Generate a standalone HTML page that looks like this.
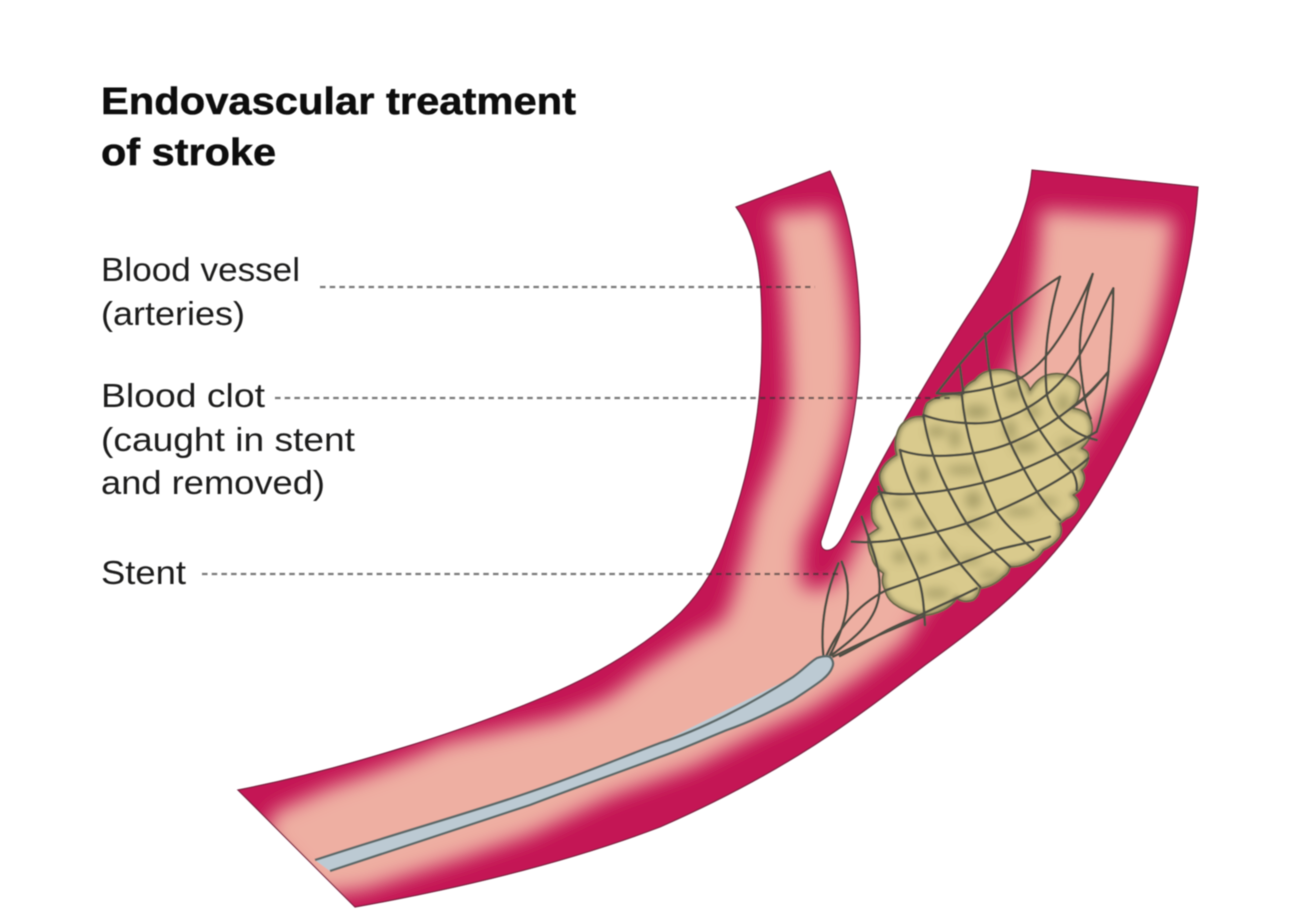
<!DOCTYPE html>
<html><head><meta charset="utf-8"><style>
html,body{margin:0;padding:0;background:#fff}
svg{display:block}
text{font-family:"Liberation Sans",sans-serif;fill:#1d1d1b}
</style></head><body>
<svg width="1308" height="919" viewBox="0 0 1308 919" xmlns="http://www.w3.org/2000/svg">
<defs>
<path id="vp" d="M238 790 C340 770 470 730 560 690 C600 672 640 648 673 620 C695 600 712 575 723 547 C745 490 762 420 762 340 C762 280 760 240 736 207 L830 171 C852 215 860 280 860 340 C860 420 838 490 821 541 C820 550 826 552 832 549 C838 546 842 538 846 530 C870 480 920 390 967 317 C1000 268 1028 220 1032 170 L1198 187 C1190 300 1150 410 1090 505 C1040 580 980 625 925 665 C860 715 790 770 660 827 C560 865 450 890 355 907 Z"/>
<clipPath id="v"><use href="#vp"/></clipPath>
<path id="clot" d="M540 405 C555 380 565 370 585 360 C600 340 620 332 640 330 C670 325 700 332 710 345 C730 355 745 370 750 390 C765 365 785 350 800 345 C825 338 850 340 870 350 C890 360 905 375 900 390 C898 415 890 430 880 445 C905 448 925 460 930 475 C940 500 938 515 930 530 C925 545 915 555 905 565 C920 570 928 580 925 590 C925 610 915 622 905 630 C915 645 915 660 910 670 C905 688 893 698 880 705 C893 715 898 728 895 740 C888 760 875 770 860 775 L840 790 C846 805 845 818 840 830 C825 850 808 862 790 870 C780 885 770 895 760 900 C735 915 710 922 690 920 C688 935 680 945 670 950 C650 970 625 982 600 985 C598 1000 590 1012 580 1020 C560 1028 545 1025 530 1015 C520 1030 505 1042 490 1050 C465 1062 440 1068 420 1065 C390 1060 360 1045 340 1030 C325 1018 318 1005 315 990 C306 975 305 958 310 940 C290 925 278 908 275 890 C265 870 262 845 265 825 L295 805 C280 790 273 775 275 760 C272 745 275 730 280 720 C288 708 300 700 315 695 C302 675 296 658 300 640 C308 615 328 597 350 585 C344 565 344 545 350 525 C355 505 362 493 375 485 C390 472 410 468 430 470 C430 452 435 440 440 430 C455 418 465 413 480 410 C500 403 520 400 540 405 Z"/>
<filter id="b" x="-20%" y="-20%" width="140%" height="140%"><feGaussianBlur stdDeviation="10"/></filter>
<filter id="b3" x="-60%" y="-60%" width="220%" height="220%"><feGaussianBlur stdDeviation="14"/></filter>
<filter id="b4" x="-10%" y="-10%" width="120%" height="120%"><feGaussianBlur stdDeviation="7"/></filter>
<clipPath id="cc"><use href="#clot"/></clipPath>
<filter id="s" x="-5%" y="-5%" width="110%" height="110%"><feGaussianBlur stdDeviation="0.55"/></filter>
</defs>
<g filter="url(#s)">
<g clip-path="url(#v)">
<rect width="1308" height="919" fill="#c41454"/>
<path filter="url(#b)" fill="#eeafa2" d="M273 812 L330 787 C380 770 420 755 443 743 L560 717 L603 700 C620 690 630 680 643 670 L693 637 L723 620 C730 605 735 590 737 580 C745 550 750 530 753 513 C770 470 790 430 788 380 C786 320 783 260 770 214 L830 208 C848 260 856 340 850 400 C842 460 817 510 802 540 L800 583 Q815 598 840 578 L860 537 L875 523 L950 450 L1000 395 L1018 350 C1030 320 1038 270 1041 210 L1174 218 C1169 280 1154 330 1144 360 L1104 412 L1060 480 L990 560 L930 600 L905 642 L860 677 L810 710 L760 733 L693 767 L610 797 L530 835 L463 858 L363 890 L320 895 L265 835 Z"/>
</g>
<use href="#vp" fill="none" stroke="#7a2040" stroke-width="1.2"/>
<g transform="translate(780 260) scale(.33333)">
<use href="#clot" fill="#d9ca8d"/>
<g clip-path="url(#cc)">
<use href="#clot" fill="none" stroke="#8a845a" stroke-width="16" filter="url(#b4)"/>
<g fill="#9d9560" filter="url(#b3)" opacity=".8">
<ellipse cx="590" cy="455" rx="38" ry="20"/><ellipse cx="470" cy="515" rx="30" ry="16"/><ellipse cx="525" cy="535" rx="16" ry="30"/>
<ellipse cx="690" cy="510" rx="18" ry="30"/><ellipse cx="735" cy="560" rx="38" ry="18"/><ellipse cx="865" cy="550" rx="30" ry="14"/>
<ellipse cx="850" cy="430" rx="18" ry="30"/><ellipse cx="760" cy="455" rx="22" ry="20"/><ellipse cx="700" cy="400" rx="26" ry="18"/>
<ellipse cx="360" cy="730" rx="30" ry="14"/><ellipse cx="430" cy="645" rx="16" ry="26"/><ellipse cx="550" cy="630" rx="50" ry="13"/>
<ellipse cx="580" cy="720" rx="24" ry="26"/><ellipse cx="420" cy="790" rx="26" ry="14"/><ellipse cx="360" cy="890" rx="22" ry="18"/>
<ellipse cx="425" cy="895" rx="18" ry="16"/><ellipse cx="590" cy="790" rx="44" ry="11"/><ellipse cx="720" cy="755" rx="46" ry="12"/>
<ellipse cx="805" cy="725" rx="30" ry="12"/><ellipse cx="880" cy="605" rx="20" ry="12"/><ellipse cx="570" cy="900" rx="36" ry="12"/>
<ellipse cx="500" cy="880" rx="20" ry="14"/><ellipse cx="470" cy="1000" rx="40" ry="14"/><ellipse cx="630" cy="945" rx="34" ry="12"/>
</g>
</g>
<use href="#clot" fill="none" stroke="#6b6849" stroke-width="5.5" stroke-linejoin="round"/>
<g fill="none" stroke="#4f5045" stroke-width="7.5" stroke-linecap="round" stroke-linejoin="round">
<path d="M215 845 C330 855 480 815 560 790 C680 745 840 670 925 595"/>
<path d="M295 695 C380 715 520 690 610 668 C720 640 860 570 950 515"/>
<path d="M360 570 C440 600 590 590 690 550 C790 510 900 440 985 335"/>
<path d="M430 465 C510 495 620 495 660 480 C740 455 820 400 870 330 C920 260 960 160 1000 85"/>
<path d="M470 400 C550 405 650 385 720 355 C800 310 870 200 938 42"/>
<path d="M470 400 C540 310 620 210 695 155 C740 120 790 80 840 50"/>
<path d="M320 990 C420 955 560 905 650 870 C700 855 770 845 810 830"/>
<path d="M180 1188 C260 1150 310 1110 390 1080 C450 1050 530 1015 590 985"/>
<path d="M140 1185 C170 1120 220 1040 320 990"/>
<path d="M160 1190 C240 1150 350 1100 430 1070"/>
<path d="M130 1185 C120 1090 140 990 175 910"/>
<path d="M150 1185 C195 1100 225 1000 185 905"/>
<path d="M155 1185 C230 1130 290 1080 298 1000 C302 960 295 920 275 860 C265 830 255 800 245 770"/>
<path d="M295 680 C320 760 390 890 415 955 C430 1000 432 1050 435 1095"/>
<path d="M360 570 C380 680 470 840 600 980"/>
<path d="M430 465 C450 600 510 710 560 790 C590 830 650 880 690 920"/>
<path d="M545 400 C555 520 590 630 650 755 C680 800 730 840 760 870"/>
<path d="M630 330 C640 430 680 540 730 625 C770 700 800 740 840 780"/>
<path d="M695 155 C695 230 705 300 710 345 C725 430 780 530 880 640 C888 655 892 675 890 690"/>
<path d="M840 50 C805 170 790 280 800 400 C810 450 860 520 950 540"/>
<path d="M1000 85 C1000 170 990 260 985 340 C975 420 965 470 950 515"/>
<path d="M938 42 C905 150 890 260 905 350 C910 400 920 450 932 475"/>
<path d="M985 335 C950 380 915 420 880 440"/>
<path d="M540 320 L550 400"/><path d="M615 220 L628 330"/>
</g>
</g>
<path fill="#bccad3" stroke="none" d="M315 860 L330 871 L530 805 L660 757 L793 700 L832 668 L830 657 L817 658 L793 677 L660 743 L530 792 Z"/>
<path fill="#bccad3" stroke="#5d6a6a" stroke-width="2.4" stroke-linejoin="round" d="M315 860 C400 832 470 813 530 792 C580 775 620 758 660 743 C700 730 750 705 793 677 C803 670 810 662 817 658 Q826 655 830 657 Q835 662 832 668 C828 678 815 685 793 700 C770 712 750 722 727 730 C700 741 680 750 660 757 C620 772 580 786 530 805 C470 825 400 848 330 871"/>
<g fill="none" stroke="#333" stroke-width="2.2" stroke-dasharray="5.5 4.2" opacity=".65">
<path d="M320 287 H815"/><path d="M275 398 H952"/><path d="M202 574 H838"/>
</g>
<g font-size="38" font-weight="700" stroke="#111" stroke-width=".5">
<text x="101" y="114" textLength="475" lengthAdjust="spacingAndGlyphs" style="fill:#0f0f0f">Endovascular treatment</text>
<text x="101" y="165" textLength="175" lengthAdjust="spacingAndGlyphs" style="fill:#0f0f0f">of stroke</text>
</g>
<g font-size="33">
<text x="101" y="281" textLength="199" lengthAdjust="spacingAndGlyphs">Blood vessel</text>
<text x="101" y="325" textLength="144" lengthAdjust="spacingAndGlyphs">(arteries)</text>
<text x="101" y="407" textLength="164" lengthAdjust="spacingAndGlyphs">Blood clot</text>
<text x="101" y="451" textLength="254" lengthAdjust="spacingAndGlyphs">(caught in stent</text>
<text x="101" y="494" textLength="224" lengthAdjust="spacingAndGlyphs">and removed)</text>
<text x="101" y="584" textLength="85" lengthAdjust="spacingAndGlyphs">Stent</text>
</g>
</g>
</svg>
</body></html>
